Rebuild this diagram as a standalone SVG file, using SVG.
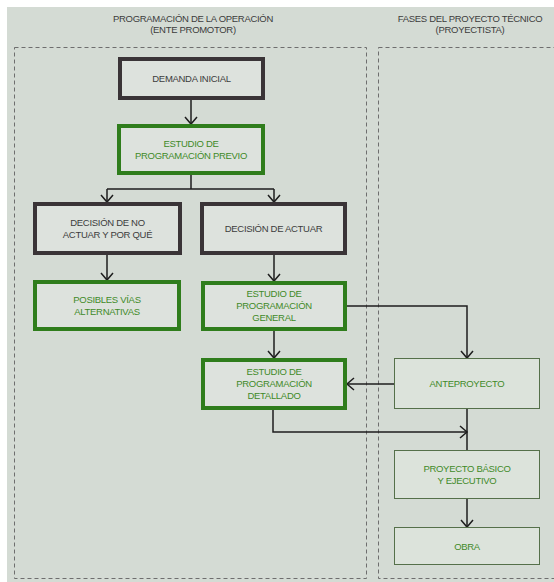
<svg xmlns="http://www.w3.org/2000/svg" width="554" height="582" viewBox="0 0 554 582">
<style>
text{font-family:"Liberation Sans Narrow","Liberation Sans",Arial,sans-serif;font-size:9.5px;letter-spacing:-0.3px;text-anchor:middle;font-stretch:condensed}
.title{fill:#3c3c3c}
.dark rect{fill:#dde2dd;stroke:#3a3437;stroke-width:4}
.dark text{fill:#3c3c3c}
.green rect{fill:#dde2dd;stroke:#2f7d1c;stroke-width:4}
.green text{fill:#3f8a28}
.thin rect{fill:#dce3db;stroke:#55704a;stroke-width:1}
.thin text{fill:#3f8a28}
.panel{fill:none;stroke:#6e6e6e;stroke-width:1;stroke-dasharray:4 3}
#connectors path{fill:none;stroke:#1e1e1e;stroke-width:1.5}
</style>
<defs>
<marker id="arr" markerUnits="userSpaceOnUse" markerWidth="16" markerHeight="16" refX="8" refY="8" orient="auto" viewBox="0 0 16 16">
<path d="M1,2 L8,8 L1,14" fill="none" stroke="#1e1e1e" stroke-width="1.5"/>
</marker>
</defs>
<rect x="0" y="0" width="554" height="582" fill="#ffffff"/>
<rect x="7" y="7" width="547" height="575" fill="#d4dbd4"/>
<g id="titles">
<text class="title" x="193" y="22">PROGRAMACIÓN DE LA OPERACIÓN</text>
<text class="title" x="193" y="33">(ENTE PROMOTOR)</text>
<text class="title" x="470" y="22">FASES DEL PROYECTO TÉCNICO</text>
<text class="title" x="470" y="33">(PROYECTISTA)</text>
</g>
<g id="panels">
<rect class="panel" x="14.5" y="47.5" width="352" height="531"/>
<rect class="panel" x="378.5" y="47.5" width="180" height="531"/>
</g>
<g id="connectors">
<path d="M191,100 V124" marker-end="url(#arr)"/>
<path d="M191,175 V189 M107,189 H274"/>
<path d="M107,189 V202" marker-end="url(#arr)"/>
<path d="M274,189 V202" marker-end="url(#arr)"/>
<path d="M107,255 V280" marker-end="url(#arr)"/>
<path d="M274,255 V281" marker-end="url(#arr)"/>
<path d="M274,331 V358" marker-end="url(#arr)"/>
<path d="M347,306 H467 V358" marker-end="url(#arr)"/>
<path d="M394,384 H347" marker-end="url(#arr)"/>
<path d="M467,409 V450"/>
<path d="M273,410 V432 H467" marker-end="url(#arr)"/>
<path d="M467,499 V527" marker-end="url(#arr)"/>
</g>
<g id="demanda" class="dark">
<rect x="120" y="59" width="143" height="39"/>
<text x="191.5" y="82">DEMANDA INICIAL</text>
</g>
<g id="previo" class="green">
<rect x="119" y="126" width="144" height="47"/>
<text x="191" y="147">ESTUDIO DE</text>
<text x="191" y="159">PROGRAMACIÓN PREVIO</text>
</g>
<g id="no-actuar" class="dark">
<rect x="35" y="204" width="145" height="49"/>
<text x="107.5" y="226">DECISIÓN DE NO</text>
<text x="107.5" y="238">ACTUAR Y POR QUÉ</text>
</g>
<g id="actuar" class="dark">
<rect x="202" y="204" width="143" height="49"/>
<text x="273.5" y="232">DECISIÓN DE ACTUAR</text>
</g>
<g id="posibles" class="green">
<rect x="35" y="282" width="144" height="47"/>
<text x="107" y="303">POSIBLES VÍAS</text>
<text x="107" y="315">ALTERNATIVAS</text>
</g>
<g id="general" class="green">
<rect x="203" y="283" width="142" height="46"/>
<text x="274" y="297">ESTUDIO DE</text>
<text x="274" y="309">PROGRAMACIÓN</text>
<text x="274" y="321">GENERAL</text>
</g>
<g id="detallado" class="green">
<rect x="203" y="360" width="142" height="48"/>
<text x="274" y="375">ESTUDIO DE</text>
<text x="274" y="387">PROGRAMACIÓN</text>
<text x="274" y="399">DETALLADO</text>
</g>
<g id="anteproyecto" class="thin">
<rect x="394.5" y="358.5" width="145" height="50"/>
<text x="467" y="387">ANTEPROYECTO</text>
</g>
<g id="proyecto" class="thin">
<rect x="394.5" y="450.5" width="145" height="48"/>
<text x="467" y="472">PROYECTO BÁSICO</text>
<text x="467" y="484">Y  EJECUTIVO</text>
</g>
<g id="obra" class="thin">
<rect x="394.5" y="527.5" width="145" height="37"/>
<text x="467" y="550">OBRA</text>
</g>
</svg>
